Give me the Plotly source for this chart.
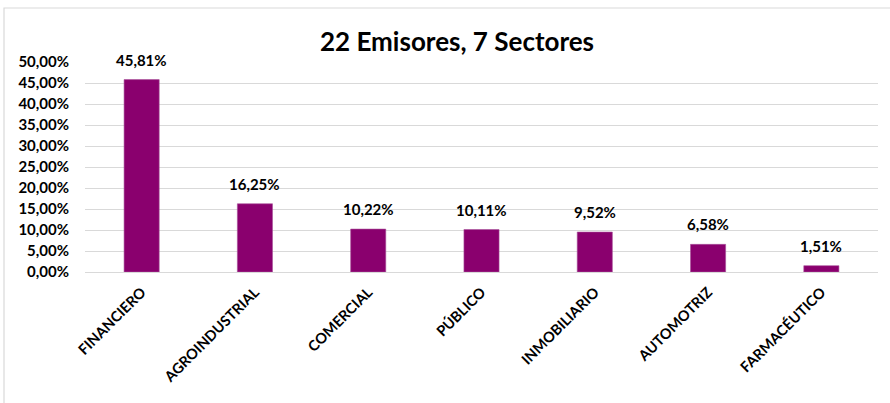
import plotly.graph_objects as go

categories = ["FINANCIERO", "AGROINDUSTRIAL", "COMERCIAL", "PÚBLICO",
              "INMOBILIARIO", "AUTOMOTRIZ", "FARMACÉUTICO"]
values = [0.4581, 0.1625, 0.1022, 0.1011, 0.0952, 0.0658, 0.0151]
y_ticks = [0, 0.05, 0.10, 0.15, 0.20, 0.25, 0.30, 0.35, 0.40, 0.45, 0.50]

FONT = "Lato"
BAR = "#8A006E"

fig = go.Figure(go.Bar(
    x=categories, y=values, width=0.31,
    marker=dict(color=BAR, line=dict(color="#A8509A", width=0.6)),
    cliponaxis=False,
))

for c, v in zip(categories, values):
    fig.add_annotation(x=c, y=v, text=f"{v * 100:.2f}%".replace(".", ","),
                       showarrow=False, yanchor="middle", yshift=20,
                       font=dict(family=FONT, size=15, color="#000000", weight="bold"))

W, H = 890, 403
L, R, T, B = 85, 12, 62, 131
pw, ph = W - L - R, H - T - B

def px(x):
    return (x - L) / pw

def py(y):
    return (H - B - y) / ph

fig.update_layout(
    width=W, height=H,
    margin=dict(l=L, r=R, t=T, b=B, autoexpand=False),
    paper_bgcolor="white", plot_bgcolor="white",
    separators=",.",
    showlegend=False,
    font=dict(family=FONT, color="#000000"),
    title=dict(text="22 Emisores, 7 Sectores", x=px(457), xanchor="center",
               xref="paper", y=1 - 42 / H, yanchor="middle", yref="container",
               font=dict(family=FONT, size=26, color="#000000", weight="bold")),
    xaxis=dict(tickangle=-45, automargin=False,
               tickfont=dict(family=FONT, size=14.5, color="#000000", weight="bold"),
               showline=False, showgrid=False, ticks="", ticklen=0,
               ticklabelstandoff=8),
    yaxis=dict(range=[0, 0.5], tickvals=y_ticks, tickformat=".2%", automargin=False,
               tickfont=dict(family=FONT, size=15, color="#000000", weight="bold"),
               gridcolor="#D9D9D9", gridwidth=1.2, zeroline=True,
               zerolinecolor="#D9D9D9", zerolinewidth=1.2, showline=False,
               ticks="", ticklabelstandoff=15),
    shapes=[dict(type="rect", xref="paper", yref="paper",
                 x0=px(4), x1=px(900), y0=py(420), y1=py(8),
                 line=dict(color="#D9D9D9", width=1.2), fillcolor="rgba(0,0,0,0)",
                 layer="below")],
)

fig.write_html("out.html", config={"displayModeBar": False},
               post_script="document.body.style.margin='0px';")
